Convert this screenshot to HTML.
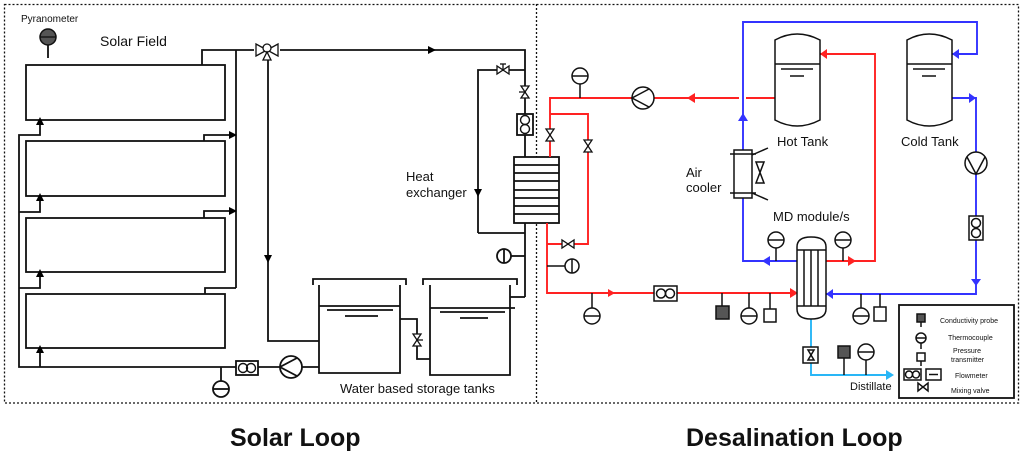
<!DOCTYPE html>
<html><head><meta charset="utf-8"><style>
body{margin:0;background:#fff;width:1024px;height:454px;overflow:hidden}
svg{display:block}
text{font-family:"Liberation Sans",Arial,sans-serif;fill:#111}
</style></head><body>
<svg width="1024" height="454" viewBox="0 0 1024 454" xmlns="http://www.w3.org/2000/svg">
<g fill="none" stroke="#111" stroke-width="1.3" stroke-dasharray="2,2">
<rect x="4.5" y="4.5" width="1014" height="398.5"/>
<line x1="536.5" y1="4" x2="536.5" y2="403"/>
</g>
<g fill="none" stroke="#111" stroke-width="1.8">
<rect x="26" y="65" width="199" height="55"/>
<rect x="26" y="141" width="199" height="55"/>
<rect x="26" y="218" width="199" height="54"/>
<rect x="26" y="294" width="199" height="54"/>
<polyline points="40,120 40,135 19,135 19,367 221,367"/>
<polyline points="19,212 40,212 40,196"/>
<polyline points="19,288 40,288 40,272"/>
<line x1="40" y1="367" x2="40" y2="348"/>
<polyline points="202,65 202,50 254,50"/>
<line x1="236" y1="50" x2="236" y2="288"/>
<polyline points="204,141 204,135 236,135"/>
<polyline points="204,218 204,211 236,211"/>
<polyline points="205,294 205,288 236,288"/>
<polyline points="280,50 525,50 525,157"/>
<polyline points="478,233 478,70 525,70"/>
<polyline points="268,58 268,341 319,341"/>
<line x1="525" y1="223" x2="525" y2="297"/>
<polyline points="525,297 510,297"/>
<line x1="478" y1="233" x2="525" y2="233"/>
<line x1="511" y1="256" x2="525" y2="256"/>
<line x1="221" y1="367" x2="319" y2="367"/>
<line x1="221" y1="367" x2="221" y2="381"/>
<polyline points="313,285 313,279 406,279 406,285"/>
<polyline points="319,285 319,373 400,373 400,285"/>
<line x1="319" y1="306" x2="400" y2="306"/>
<line x1="327" y1="310" x2="393" y2="310"/>
<line x1="345" y1="316" x2="378" y2="316"/>
<polyline points="423,285 423,279 517,279 517,285"/>
<polyline points="430,285 430,375 510,375 510,285"/>
<line x1="430" y1="308" x2="515" y2="308"/>
<line x1="440" y1="312" x2="505" y2="312"/>
<line x1="460" y1="318" x2="488" y2="318"/>
<polyline points="400,319 417,319 417,359 430,359"/>
<rect x="236" y="361" width="22" height="14" fill="#fff"/>
<rect x="517" y="114" width="16" height="21" fill="#fff"/>
<rect x="514" y="157" width="45" height="66" fill="#fff"/>
<line x1="514" y1="165" x2="559" y2="165"/><line x1="514" y1="173" x2="559" y2="173"/><line x1="514" y1="181" x2="559" y2="181"/><line x1="514" y1="190" x2="559" y2="190"/><line x1="514" y1="198" x2="559" y2="198"/><line x1="514" y1="206" x2="559" y2="206"/><line x1="514" y1="214" x2="559" y2="214"/>
<circle cx="291" cy="367" r="11" fill="#fff"/>
<polyline points="297,358 280,367 297,376"/>
<circle cx="221" cy="389" r="8" fill="#fff"/><line x1="213" y1="389" x2="229" y2="389"/>
<circle cx="504" cy="256" r="7" fill="#fff"/><line x1="504" y1="249" x2="504" y2="263"/>
<line x1="48" y1="45" x2="48" y2="58"/>
</g>
<circle cx="48" cy="37" r="8" fill="#555" stroke="#111" stroke-width="1.5"/><line x1="40" y1="37" x2="56" y2="37" stroke="#111" stroke-width="1.3"/>
<g fill="none" stroke="#111" stroke-width="1.4">
<circle cx="243" cy="368" r="4.5"/><circle cx="251" cy="368" r="4.5"/>
<circle cx="525" cy="120" r="4.5"/><circle cx="525" cy="129" r="4.5"/>
</g>
<g fill="#fff" stroke="#111" stroke-width="1.3">
<path d="M256,44 L256,56 L267,50 Z M278,44 L278,56 L267,50 Z"/><circle cx="267" cy="48" r="4"/><path d="M263,60 L271,60 L267,52 Z"/>
<path d="M497,66 L497,74 L503,70 Z M509,66 L509,74 L503,70 Z"/><line x1="503" y1="70" x2="503" y2="64"/><line x1="500" y1="64" x2="506" y2="64"/>
<path d="M521,86 L529,86 L525,92 Z M521,98 L529,98 L525,92 Z"/><line x1="525" y1="92" x2="519" y2="92"/>
<path d="M413,334 L421,334 L417,340 Z M413,346 L421,346 L417,340 Z"/><line x1="417" y1="340" x2="423" y2="340"/>
</g>
<g fill="#000">
<path d="M36,125 L44,125 L40,117Z"/><path d="M36,201 L44,201 L40,193Z"/><path d="M36,277 L44,277 L40,269Z"/><path d="M36,353 L44,353 L40,345Z"/>
<path d="M229,131 L229,139 L237,135Z"/><path d="M229,207 L229,215 L237,211Z"/>
<path d="M428,46 L428,54 L436,50Z"/>
<path d="M264,255 L272,255 L268,263Z"/><path d="M474,189 L482,189 L478,197Z"/>
</g>
<text x="21" y="22" font-size="10">Pyranometer</text>
<text x="100" y="46" font-size="14">Solar Field</text>
<text x="406" y="181" font-size="13">Heat</text>
<text x="406" y="197" font-size="13">exchanger</text>
<text x="340" y="393" font-size="13">Water based storage tanks</text>
<text x="230" y="446" font-size="25" font-weight="bold">Solar Loop</text>
<text x="686" y="446" font-size="25" font-weight="bold">Desalination Loop</text>

<g fill="none" stroke="#f22" stroke-width="1.9">
<polyline points="550,157 550,98 632,98"/>
<line x1="654" y1="98" x2="739" y2="98"/><line x1="746" y1="98" x2="776" y2="98"/>
<polyline points="550,114 588,114 588,244 547,244"/>
<polyline points="547,223 547,293 797,293"/>
<polyline points="826,261 875,261 875,54 820,54"/>
</g>
<g fill="none" stroke="#33f" stroke-width="1.9">
<polyline points="797,261 743,261 743,22 977,22 977,54 952,54"/>
<polyline points="952,98 976,98 976,294 826,294"/>
</g>
<polyline points="811,319 811,375 886,375" fill="none" stroke="#29b6f6" stroke-width="1.9"/>
<g fill="#f22"><path d="M687,98 L695,93 L695,103Z"/><path d="M608,289 L608,297 L615,293Z"/><path d="M848,256 L848,266 L856,261Z"/><path d="M798,293 L790,288 L790,298Z"/><path d="M820,54 L827,49 L827,59Z"/></g>
<g fill="#33f"><path d="M738,121 L748,121 L743,113Z"/><path d="M762,261 L770,256 L770,266Z"/><path d="M952,54 L959,49 L959,59Z"/><path d="M969,93 L969,103 L976,98Z"/><path d="M971,279 L981,279 L976,286Z"/><path d="M826,294 L833,289 L833,299Z"/></g>
<path d="M886,370 L894,375 L886,380Z" fill="#29b6f6"/>
<g fill="none" stroke="#111" stroke-width="1.5">
<circle cx="643" cy="98" r="11" fill="#fff"/><polyline points="649,89 632,98 649,107"/>
<line x1="580" y1="84" x2="580" y2="98"/><circle cx="580" cy="76" r="8" fill="#fff"/><line x1="572" y1="76" x2="588" y2="76"/>
<path d="M775,120 L775,40 Q797,28 820,40 L820,120 Q797,132 775,120Z" fill="#fff"/>
<line x1="775" y1="64" x2="820" y2="64"/><line x1="781" y1="69" x2="813" y2="69"/><line x1="790" y1="76" x2="804" y2="76"/>
<path d="M907,120 L907,40 Q929,28 952,40 L952,120 Q929,132 907,120Z" fill="#fff"/>
<line x1="907" y1="64" x2="952" y2="64"/><line x1="913" y1="69" x2="945" y2="69"/><line x1="922" y1="76" x2="936" y2="76"/>
<rect x="734" y="150" width="18" height="48" fill="#fff"/>
<line x1="730" y1="154" x2="756" y2="154"/><line x1="730" y1="193" x2="756" y2="193"/>
<line x1="752" y1="155" x2="768" y2="148"/><line x1="752" y1="193" x2="768" y2="200"/>
<path d="M756,162 L764,162 L756,183 L764,183 Z"/>
<circle cx="976" cy="163" r="11" fill="#fff"/><polyline points="967,157 976,174 985,157"/>
<rect x="969" y="216" width="14" height="24" fill="#fff"/><circle cx="976" cy="223" r="4.5"/><circle cx="976" cy="233" r="4.5"/>
<path d="M797,247 Q797,237 811,237 Q826,237 826,247 L826,309 Q826,319 811,319 Q797,319 797,309Z" fill="#fff"/>
<line x1="797" y1="250" x2="826" y2="250"/><line x1="797" y1="306" x2="826" y2="306"/>
<line x1="804" y1="250" x2="804" y2="306"/><line x1="811" y1="250" x2="811" y2="306"/><line x1="818" y1="250" x2="818" y2="306"/>
<line x1="776" y1="248" x2="776" y2="261"/><circle cx="776" cy="240" r="8" fill="#fff"/><line x1="768" y1="240" x2="784" y2="240"/>
<line x1="843" y1="248" x2="843" y2="261"/><circle cx="843" cy="240" r="8" fill="#fff"/><line x1="835" y1="240" x2="851" y2="240"/>
<line x1="592" y1="293" x2="592" y2="308"/><circle cx="592" cy="316" r="8" fill="#fff"/><line x1="584" y1="316" x2="600" y2="316"/>
<rect x="654" y="286" width="23" height="15" fill="#fff"/><circle cx="661" cy="293.5" r="4.5"/><circle cx="670" cy="293.5" r="4.5"/>
<line x1="722" y1="293" x2="722" y2="306"/><rect x="716" y="306" width="13" height="13" fill="#555"/>
<line x1="749" y1="293" x2="749" y2="308"/><circle cx="749" cy="316" r="8" fill="#fff"/><line x1="741" y1="316" x2="757" y2="316"/>
<line x1="770" y1="293" x2="770" y2="309"/><rect x="764" y="309" width="12" height="13" fill="#fff"/>
<line x1="861" y1="294" x2="861" y2="308"/><circle cx="861" cy="316" r="8" fill="#fff"/><line x1="853" y1="316" x2="869" y2="316"/>
<line x1="880" y1="294" x2="880" y2="307"/><rect x="874" y="307" width="12" height="14" fill="#fff"/>
<line x1="547" y1="266" x2="565" y2="266"/><circle cx="572" cy="266" r="7" fill="#fff"/><line x1="572" y1="259" x2="572" y2="273"/>
<rect x="803" y="347" width="15" height="16" fill="#fff"/><path d="M808,350 L814,350 L808,360 L814,360Z"/>
<line x1="844" y1="358" x2="844" y2="375"/><rect x="838" y="346" width="12" height="12" fill="#555"/>
<line x1="866" y1="360" x2="866" y2="375"/><circle cx="866" cy="352" r="8" fill="#fff"/><line x1="858" y1="352" x2="874" y2="352"/>
<rect x="899" y="305" width="115" height="93" stroke-width="1.8"/>
<rect x="917" y="314" width="8" height="8" fill="#555"/><line x1="921" y1="322" x2="921" y2="327"/>
<circle cx="921" cy="338" r="5"/><line x1="916" y1="338" x2="926" y2="338"/><line x1="921" y1="343" x2="921" y2="349"/>
<rect x="917" y="353" width="8" height="8"/><line x1="921" y1="361" x2="921" y2="366"/>
<rect x="904" y="369" width="17" height="11"/><circle cx="909" cy="374.5" r="3.5"/><circle cx="916" cy="374.5" r="3.5"/>
<rect x="926" y="369" width="15" height="11"/><line x1="929" y1="374.5" x2="938" y2="374.5"/>
<path d="M918,383 L918,391 L923,387Z M928,383 L928,391 L923,387Z"/>
</g>
<g fill="#fff" stroke="#111" stroke-width="1.3">
<path d="M546,129 L554,129 L550,135Z M546,141 L554,141 L550,135Z"/>
<path d="M584,140 L592,140 L588,146Z M584,152 L592,152 L588,146Z"/>
<path d="M562,240 L562,248 L568,244Z M574,240 L574,248 L568,244Z"/>
</g>
<text x="686" y="177" font-size="13">Air</text>
<text x="686" y="192" font-size="13">cooler</text>
<text x="777" y="146" font-size="13">Hot Tank</text>
<text x="901" y="146" font-size="13">Cold Tank</text>
<text x="773" y="221" font-size="13">MD module/s</text>
<text x="850" y="390" font-size="11">Distillate</text>
<g font-size="7">
<text x="940" y="323">Conductivity probe</text>
<text x="948" y="340">Thermocouple</text>
<text x="953" y="353">Pressure</text>
<text x="951" y="362">transmitter</text>
<text x="955" y="378">Flowmeter</text>
<text x="951" y="393">Mixing valve</text>
</g>
</svg>
</body></html>
